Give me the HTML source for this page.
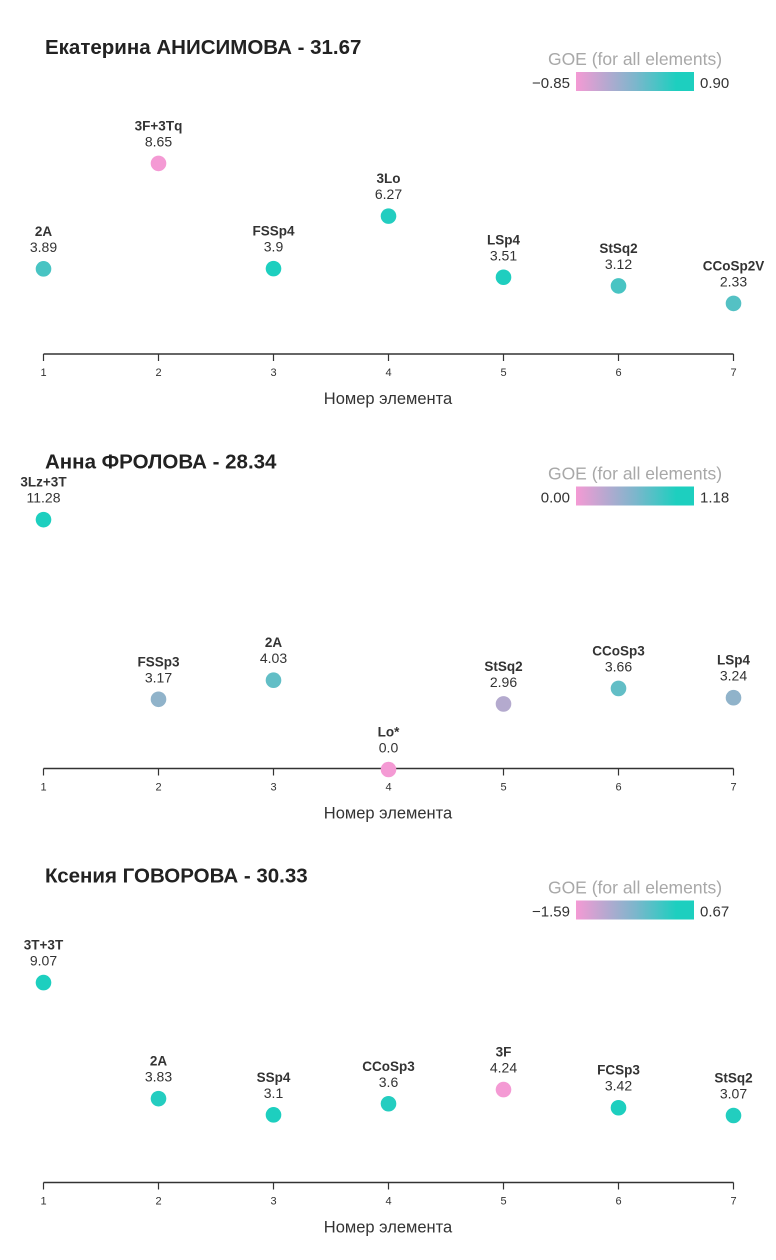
<!DOCTYPE html>
<html><head><meta charset="utf-8">
<style>
body{margin:0;background:#fff;font-family:"Liberation Sans","DejaVu Sans",sans-serif;}
svg text{font-family:"Liberation Sans","DejaVu Sans",sans-serif;}
</style></head>
<body>
<svg id="root" width="776" height="1255"></svg>
<script>
const titles = ["Екатерина АНИСИМОВА - 31.67","Анна ФРОЛОВА - 28.34","Ксения ГОВОРОВА - 30.33"];
const elements1 = ["2A","3F+3Tq","FSSp4","3Lo","LSp4","StSq2","CCoSp2V"];
const scores1 = [3.89,8.65,3.9,6.27,3.51,3.12,2.33];
const scoreLabels1 = ["3.89","8.65","3.9","6.27","3.51","3.12","2.33"];
const goe1 = [0.55,-0.85,0.90,0.85,0.88,0.55,0.45];
const goeRange1 = [-0.85,0.90];
const elements2 = ["3Lz+3T","FSSp3","2A","Lo*","StSq2","CCoSp3","LSp4"];
const scores2 = [11.28,3.17,4.03,0.0,2.96,3.66,3.24];
const scoreLabels2 = ["11.28","3.17","4.03","0.0","2.96","3.66","3.24"];
const goe2 = [1.18,0.55,0.80,0.0,0.35,0.80,0.55];
const goeRange2 = [0.00,1.18];
const elements3 = ["3T+3T","2A","SSp4","CCoSp3","3F","FCSp3","StSq2"];
const scores3 = [9.07,3.83,3.1,3.6,4.24,3.42,3.07];
const scoreLabels3 = ["9.07","3.83","3.1","3.6","4.24","3.42","3.07"];
const goe3 = [0.67,0.60,0.67,0.60,-1.59,0.67,0.62];
const goeRange3 = [-1.59,0.67];
const goeLabels = [["−0.85","0.90"],["0.00","1.18"],["−1.59","0.67"]];
const ticks = [1,2,3,4,5,6,7];

const NS="http://www.w3.org/2000/svg";
const root=document.getElementById('root');
function mk(tag,attrs,parent,txt){const e=document.createElementNS(NS,tag);for(const k in attrs)e.setAttribute(k,attrs[k]);if(txt!==undefined)e.textContent=txt;parent.appendChild(e);return e;}
const pink=[244,154,212],teal=[29,207,191];
function col(v,r){let t=(v-r[0])/(r[1]-r[0]);t=Math.max(0,Math.min(1,t));const c=pink.map((p,i)=>Math.round(p+(teal[i]-p)*t));return `rgb(${c[0]},${c[1]},${c[2]})`;}
const defs=mk('defs',{},root);
const lg=mk('linearGradient',{id:'gr',x1:'0',x2:'1',y1:'0',y2:'0'},defs);
mk('stop',{offset:'0','stop-color':'rgb(244,154,212)'},lg);
mk('stop',{offset:'0.5','stop-color':'rgb(125,182,204)'},lg);
mk('stop',{offset:'0.85','stop-color':'rgb(29,207,191)'},lg);
mk('stop',{offset:'1','stop-color':'rgb(29,207,191)'},lg);

const charts=[[elements1,scores1,goe1,goeRange1,scoreLabels1],[elements2,scores2,goe2,goeRange2,scoreLabels2],[elements3,scores3,goe3,goeRange3,scoreLabels3]];
const offsets=[0,414.5,828.5];
charts.forEach((c,ci)=>{
  const off=offsets[ci];
  const g=mk('g',{},root);
  
  
  const axisY=354+off;
  const xs=v=>43.5+(v-1)*115;
  const ys=v=>axisY+1-v*22.15;
  const t=mk('text',{x:45,y:54+off,'font-size':20.5,'font-weight':'bold',fill:'#222'},g,titles[ci]);
  
  
  const lgG=mk('g',{},g);
  
  
  mk('text',{x:635,y:65+off,'font-size':17.5,fill:'#a8a8a8','text-anchor':'middle'},lgG,'GOE (for all elements)');
  mk('rect',{x:576,y:72+off,width:118,height:19,fill:'url(#gr)'},lgG);
  mk('text',{x:570,y:88+off,'font-size':15,fill:'#333','text-anchor':'end'},lgG,goeLabels[ci][0]);
  mk('text',{x:700,y:88+off,'font-size':15,fill:'#333'},lgG,goeLabels[ci][1]);
  const ax=mk('g',{},g);
  
  
  mk('line',{x1:43.5,x2:733.5,y1:axisY,y2:axisY,stroke:'#333','stroke-width':1.5},ax);
  ticks.forEach(tk=>{
    mk('line',{x1:xs(tk),x2:xs(tk),y1:axisY,y2:axisY+7,stroke:'#333','stroke-width':1.2},ax);
    mk('text',{x:xs(tk),y:axisY+22,'font-size':11,fill:'#333','text-anchor':'middle'},ax,tk);
  });
  const at=mk('text',{x:388,y:axisY+50,'font-size':16.5,fill:'#333','text-anchor':'middle'},g,'Номер элемента');
  
  
  c[0].forEach((name,i)=>{
    const x=xs(i+1),y=ys(c[1][i]);
    const pg=mk('g',{},g);
    
    
    mk('circle',{cx:x,cy:y,r:7.8,fill:col(c[2][i],c[3])},pg);
    mk('text',{x:x,y:y-33,'font-size':13.5,'font-weight':'bold',fill:'#333','text-anchor':'middle'},pg,name);
    mk('text',{x:x,y:y-17,'font-size':14,fill:'#333','text-anchor':'middle'},pg,c[4][i]);
  });
});
</script>
</body></html>
